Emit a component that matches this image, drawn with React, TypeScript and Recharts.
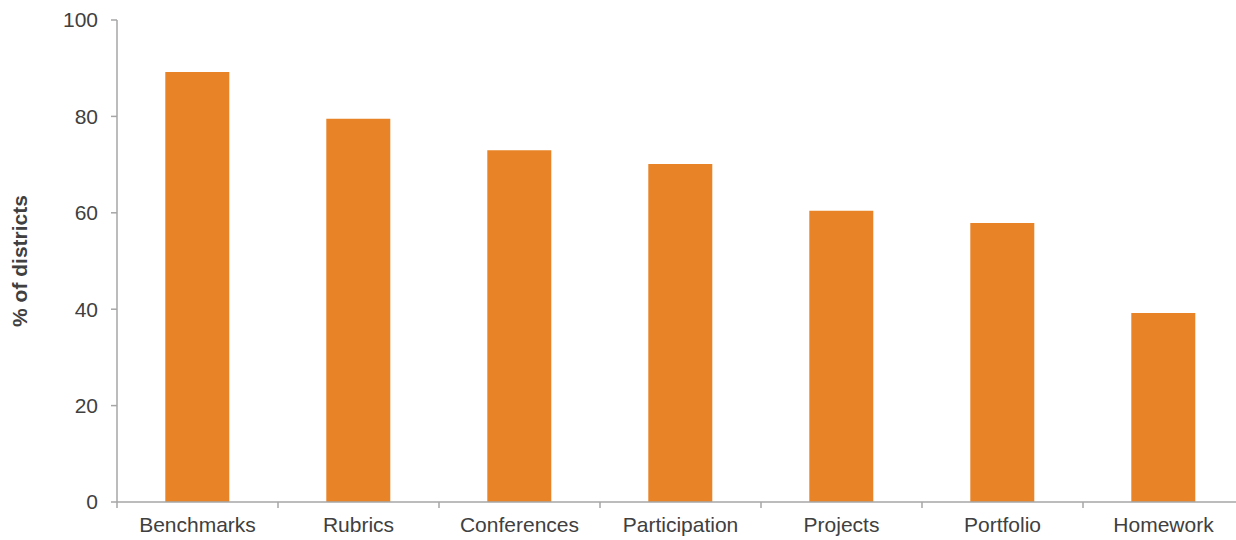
import React from "react";
import { BarChart, Bar, XAxis, YAxis } from "recharts";

const categories = ["Benchmarks", "Rubrics", "Conferences", "Participation", "Projects", "Portfolio", "Homework"];
const values = [89.2, 79.5, 73.0, 70.1, 60.4, 57.9, 39.2];
const yTicks = [0, 20, 40, 60, 80, 100];

const data = categories.map((c, i) => ({ name: c, value: values[i] }));

const CHART_W = 1244;
const CHART_H = 540;
const LEFT = 117;
const RIGHT_MARGIN = 0;
const BAND = (CHART_W - LEFT - RIGHT_MARGIN) / categories.length;
const FONT = "'Liberation Sans', Arial, sans-serif";
const TEXT = "#404040";
const AXIS = "#A6A6A6";

const XTick = (props: any) => {
  const { x, y, payload } = props;
  const bx = x - BAND / 2;
  return (
    <g>
      <line x1={bx} y1={y} x2={bx} y2={y + 6} stroke={AXIS} strokeWidth={1.5} />
      <text x={x} y={y + 15} dy="0.71em" textAnchor="middle" fill={TEXT} fontSize={21} fontFamily={FONT}>
        {payload.value}
      </text>
    </g>
  );
};

const YLabel = (props: any) => {
  const { viewBox } = props;
  const cy = viewBox.y + viewBox.height / 2;
  const cx = 27;
  return (
    <text
      x={cx}
      y={cy}
      transform={`rotate(-90, ${cx}, ${cy})`}
      textAnchor="middle"
      fill={TEXT}
      fontSize={21}
      fontWeight="bold"
      fontFamily={FONT}
    >
      % of districts
    </text>
  );
};

export default function App() {
  return (
    <div style={{ position: "absolute", left: 0, top: 0, width: 1236, height: 540, overflow: "hidden", background: "#fff" }}>
      <BarChart
        width={CHART_W}
        height={CHART_H}
        data={data}
        margin={{ top: 20, right: RIGHT_MARGIN, bottom: 0, left: 0 }}
        barCategoryGap="30%"
      >
        <XAxis
          dataKey="name"
          height={38}
          tickSize={0}
          tickMargin={0}
          tickLine={false}
          axisLine={{ stroke: AXIS, strokeWidth: 1.5 }}
          tick={<XTick />}
          interval={0}
        />
        <YAxis
          width={LEFT}
          domain={[0, 100]}
          ticks={yTicks}
          tickSize={6}
          tickMargin={13}
          axisLine={{ stroke: AXIS, strokeWidth: 1.5 }}
          tickLine={{ stroke: AXIS, strokeWidth: 1.5 }}
          tick={{ fill: TEXT, fontSize: 21, fontFamily: FONT }}
          label={<YLabel />}
        />
        <Bar dataKey="value" fill="#E88427" isAnimationActive={false} />
      </BarChart>
    </div>
  );
}
